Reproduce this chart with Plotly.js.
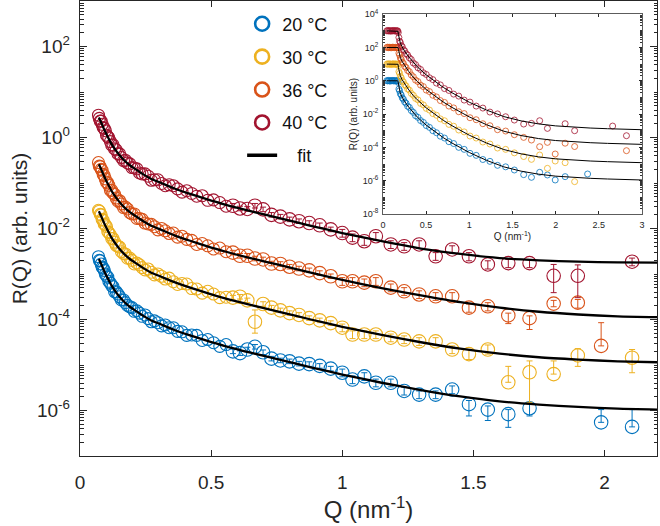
<!DOCTYPE html>
<html><head><meta charset="utf-8">
<script src="https://cdn.plot.ly/plotly-3.0.1.min.js"></script>
<style>html,body{margin:0;padding:0;background:#fff}#chart{width:660px;height:526px}</style>
</head><body><div id="chart"></div>
<script>
// ---------- main plot data (values are log10 of R(Q)) ----------
const seriesNames = ['20 °C', '30 °C', '36 °C', '40 °C'];
const seriesColors = ['#0072BD', '#EDB120', '#D95319', '#A2142F'];

const qLow = [0.0705,0.0737,0.0771,0.0807,0.0844,0.0883,0.0923,0.0966,0.101,0.106,0.110,0.116,0.121,0.126,0.132,0.138,0.145,0.151,0.158,0.166,0.173,0.181,0.190,0.198,0.207,0.217,0.227,0.237,0.248,0.260,0.272,0.284,0.297,0.311,0.325,0.340,0.356,0.372,0.389,0.407,0.426,0.445,0.466,0.487,0.509,0.533,0.557];

const low20 = [-2.62,-2.70,-2.71,-2.78,-2.85,-2.87,-2.92,-3.00,-3.04,-3.07,-3.16,-3.20,-3.26,-3.28,-3.39,-3.39,-3.44,-3.50,-3.57,-3.57,-3.63,-3.69,-3.72,-3.74,-3.82,-3.81,-3.86,-3.93,-3.90,-3.98,-4.05,-4.03,-4.07,-4.14,-4.12,-4.18,-4.18,-4.26,-4.27,-4.35,-4.34,-4.35,-4.46,-4.44,-4.51,-4.59,-4.55];
const low30 = [-1.60,-1.62,-1.69,-1.70,-1.80,-1.82,-1.90,-1.92,-1.96,-2.07,-2.09,-2.14,-2.22,-2.22,-2.30,-2.37,-2.39,-2.41,-2.51,-2.55,-2.56,-2.65,-2.65,-2.70,-2.78,-2.76,-2.80,-2.86,-2.91,-2.89,-2.96,-3.02,-3.00,-3.05,-3.11,-3.09,-3.17,-3.23,-3.21,-3.22,-3.32,-3.33,-3.42,-3.38,-3.44,-3.52,-3.51];
const low36 = [-0.55,-0.63,-0.64,-0.70,-0.72,-0.81,-0.84,-0.91,-0.98,-1.00,-1.05,-1.16,-1.16,-1.22,-1.25,-1.33,-1.40,-1.39,-1.46,-1.54,-1.53,-1.57,-1.65,-1.68,-1.68,-1.78,-1.78,-1.80,-1.88,-1.90,-1.91,-1.96,-2.03,-2.00,-2.05,-2.11,-2.10,-2.19,-2.17,-2.24,-2.26,-2.35,-2.33,-2.38,-2.45,-2.43,-2.51];
const low40 = [0.49,0.42,0.36,0.36,0.29,0.22,0.20,0.15,0.05,0.02,-0.01,-0.09,-0.17,-0.16,-0.25,-0.27,-0.36,-0.36,-0.44,-0.51,-0.50,-0.56,-0.58,-0.66,-0.67,-0.69,-0.78,-0.80,-0.80,-0.85,-0.94,-0.93,-0.93,-1.01,-1.06,-1.04,-1.06,-1.13,-1.20,-1.17,-1.23,-1.29,-1.28,-1.38,-1.37,-1.43,-1.51];

const qTail20 = [0.583,0.610,0.638,0.667,0.698,0.730,0.764,0.799,0.835,0.874,0.914,0.956,1.000,1.039,1.084,1.128,1.185,1.236,1.293,1.356,1.419,1.483,1.555,1.633,1.714,1.987,2.105];
const tail20 = [-4.70,-4.74,-4.66,-4.60,-4.72,-4.86,-4.90,-4.92,-4.97,-4.98,-5.02,-5.08,-5.17,-5.32,-5.25,-5.39,-5.39,-5.57,-5.65,-5.65,-5.54,-5.86,-5.98,-6.08,-5.95,-6.26,-6.36];
const errUp20 = [0.05,0.05,0.05,0.05,0.05,0.05,0.05,0.05,0.05,0.05,0.05,0.05,0.08,0.08,0.08,0.08,0.08,0.08,0.08,0.08,0.08,0.08,0.08,0.10,0.10,0.28,0.38];
const errDn20 = [0.05,0.05,0.05,0.05,0.05,0.05,0.05,0.05,0.05,0.05,0.05,0.05,0.09,0.09,0.09,0.09,0.09,0.09,0.09,0.09,0.09,0.26,0.24,0.29,0.17,0,0];

const qTail30 = [0.583,0.610,0.638,0.667,0.698,0.730,0.764,0.799,0.835,0.874,0.914,0.956,1.000,1.039,1.084,1.128,1.185,1.236,1.293,1.356,1.419,1.483,1.555,1.633,1.714,1.806,1.898,2.105];
const tail30 = [-3.52,-3.50,-3.58,-4.05,-3.66,-3.74,-3.80,-3.86,-3.90,-3.97,-4.02,-4.08,-4.18,-4.33,-4.33,-4.33,-4.40,-4.44,-4.48,-4.48,-4.66,-4.76,-4.66,-5.38,-5.16,-5.20,-4.79,-4.84];
const errUp30 = [0.05,0.05,0.05,0.26,0.05,0.05,0.05,0.05,0.05,0.05,0.05,0.05,0.08,0.08,0.08,0.08,0.08,0.08,0.08,0.08,0.08,0.10,0.10,0.35,0.25,0.29,0.15,0.18];
const errDn30 = [0.05,0.05,0.05,0.25,0.05,0.05,0.05,0.05,0.05,0.05,0.05,0.05,0.09,0.09,0.09,0.09,0.09,0.09,0.09,0.09,0.09,0.12,0.10,0,0.66,0,0.24,0.33];

const qTail36 = [0.583,0.610,0.638,0.667,0.698,0.730,0.764,0.799,0.835,0.874,0.914,0.956,1.000,1.039,1.084,1.128,1.185,1.236,1.293,1.356,1.419,1.483,1.555,1.633,1.714,1.806,1.898,1.987];
const tail36 = [-2.53,-2.60,-2.60,-2.66,-2.68,-2.77,-2.78,-2.84,-2.88,-2.92,-2.98,-3.05,-3.16,-3.16,-3.19,-3.16,-3.30,-3.38,-3.45,-3.49,-3.49,-3.74,-3.71,-3.91,-3.97,-3.65,-3.63,-4.58];
const errUp36 = [0.05,0.05,0.05,0.05,0.05,0.05,0.05,0.05,0.05,0.05,0.05,0.05,0.08,0.08,0.08,0.08,0.08,0.08,0.08,0.08,0.08,0.08,0.08,0.05,0.05,0.07,0.07,0.51];
const errDn36 = [0.05,0.05,0.05,0.05,0.05,0.05,0.05,0.05,0.05,0.05,0.05,0.05,0.09,0.09,0.09,0.09,0.09,0.09,0.09,0.09,0.09,0.10,0.10,0.18,0.25,0.07,0.12,0];

const qTail40 = [0.583,0.610,0.638,0.667,0.698,0.730,0.764,0.799,0.835,0.874,0.914,0.956,1.000,1.039,1.084,1.128,1.185,1.236,1.293,1.356,1.419,1.483,1.555,1.633,1.714,1.806,1.898,2.105];
const tail40 = [-1.50,-1.56,-1.57,-1.50,-1.58,-1.70,-1.74,-1.80,-1.84,-1.88,-1.93,-2.02,-2.10,-2.20,-2.28,-2.17,-2.35,-2.39,-2.35,-2.61,-2.46,-2.61,-2.79,-2.76,-2.76,-3.04,-3.04,-2.73];
const errUp40 = [0.05,0.05,0.05,0.05,0.05,0.05,0.05,0.05,0.05,0.05,0.05,0.05,0.08,0.08,0.08,0.08,0.08,0.08,0.08,0.08,0.08,0.08,0.08,0.08,0.08,0.25,0.24,0.08];
const errDn40 = [0.05,0.05,0.05,0.05,0.05,0.05,0.05,0.05,0.05,0.05,0.05,0.05,0.09,0.09,0.09,0.09,0.09,0.09,0.09,0.09,0.09,0.10,0.10,0.10,0.10,0.37,0.48,0.09];

const qFit = [0.072,0.08,0.09,0.10,0.11,0.12,0.135,0.15,0.17,0.19,0.21,0.24,0.27,0.31,0.36,0.42,0.48,0.55,0.65,0.76,0.88,1.0,1.15,1.3,1.45,1.6,1.75,1.9,2.05,2.2];
const fit20 = [-2.67,-2.77,-2.905,-3.03,-3.14,-3.25,-3.38,-3.495,-3.62,-3.72,-3.80,-3.915,-4.015,-4.11,-4.23,-4.35,-4.46,-4.58,-4.73,-4.88,-5.05,-5.21,-5.39,-5.55,-5.69,-5.80,-5.87,-5.92,-5.96,-5.98];
const fit30 = [-1.62,-1.72,-1.855,-1.98,-2.09,-2.20,-2.33,-2.445,-2.57,-2.67,-2.75,-2.865,-2.965,-3.06,-3.18,-3.30,-3.41,-3.53,-3.68,-3.83,-4.00,-4.16,-4.34,-4.50,-4.64,-4.75,-4.83,-4.88,-4.92,-4.94];
const fit36 = [-0.59,-0.69,-0.825,-0.95,-1.06,-1.17,-1.30,-1.415,-1.54,-1.64,-1.72,-1.835,-1.935,-2.03,-2.15,-2.27,-2.38,-2.50,-2.65,-2.80,-2.97,-3.13,-3.31,-3.47,-3.62,-3.74,-3.83,-3.89,-3.93,-3.95];
const fit40 = [0.44,0.34,0.205,0.08,-0.03,-0.14,-0.27,-0.385,-0.51,-0.61,-0.69,-0.805,-0.905,-1.00,-1.12,-1.24,-1.35,-1.47,-1.62,-1.77,-1.94,-2.10,-2.28,-2.44,-2.56,-2.65,-2.70,-2.73,-2.745,-2.75];

// ---------- inset data (log10 R(Q)) ----------
const qIn = [0.045,0.055,0.065,0.075,0.085,0.095,0.105,0.115,0.125,0.135,0.145,0.155,0.165,0.172,0.178,0.185,0.193,0.202,0.212,0.224,0.237,0.252,0.268,0.286,0.306,0.328,0.352,0.378,0.406,0.436,0.468,0.502,0.539,0.578,0.620,0.665,0.713,0.764,0.819,0.878,0.941,1.008,1.080,1.157,1.239,1.327,1.421,1.522,1.630,1.720,1.815,1.905,1.995,2.110,2.220,2.370,2.660,2.820];
const in20 = [0.01,-0.01,0.02,0,-0.02,0.01,0,0.02,-0.01,0,0.01,-0.02,0,0.01,-0.10,-0.50,-0.60,-0.78,-0.86,-1.03,-1.11,-1.27,-1.35,-1.53,-1.60,-1.79,-1.90,-2.10,-2.20,-2.39,-2.50,-2.69,-2.80,-3.00,-3.12,-3.33,-3.44,-3.66,-3.77,-4.00,-4.12,-4.36,-4.48,-4.73,-4.84,-5.08,-5.17,-5.36,-5.64,-5.80,-5.50,-5.66,-5.96,-5.76,null,-5.60,null,null];
const in30 = [1.0,1.01,0.99,1.02,1.0,0.98,1.01,1.0,1.02,0.99,1.0,1.01,0.99,1.0,0.92,0.55,0.44,0.26,0.18,0.01,-0.07,-0.24,-0.31,-0.49,-0.56,-0.76,-0.87,-1.06,-1.15,-1.36,-1.45,-1.66,-1.76,-1.97,-2.07,-2.29,-2.40,-2.62,-2.73,-2.96,-3.07,-3.32,-3.44,-3.68,-3.80,-4.04,-4.12,-4.33,-4.55,-4.72,-4.46,-5.26,-4.82,-4.92,-6.06,null,null,null];
const in36 = [2.0,2.02,1.99,2.01,2.0,1.98,2.01,2.02,2.0,1.99,2.01,2.0,1.98,2.0,2.0,1.66,1.55,1.37,1.29,1.12,1.04,0.86,0.80,0.62,0.55,0.35,0.24,0.04,-0.05,-0.26,-0.35,-0.56,-0.65,-0.87,-0.97,-1.19,-1.30,-1.52,-1.63,-1.86,-1.97,-2.22,-2.34,-2.58,-2.70,-2.94,-3.02,-3.24,-3.40,-3.56,-3.96,-3.70,-4.40,-3.75,-3.95,null,null,-4.20];
const in40 = [3.0,3.02,2.99,3.01,3.0,2.98,3.01,3.0,3.02,2.99,3.0,3.01,2.99,3.0,2.9,2.6,2.38,2.30,2.12,2.05,1.87,1.80,1.63,1.55,1.38,1.28,1.07,0.97,0.78,0.68,0.48,0.38,0.18,0.07,-0.14,-0.25,-0.47,-0.58,-0.80,-0.92,-1.16,-1.28,-1.52,-1.64,-1.88,-1.99,-2.16,-2.36,-2.60,-2.56,-2.40,-2.86,null,-2.58,-3.0,null,-2.72,-3.30];

const qFitIn = [0.045,0.10,0.17,0.175,0.18,0.19,0.20,0.22,0.25,0.30,0.35,0.40,0.50,0.60,0.70,0.80,0.90,1.0,1.2,1.4,1.6,1.8,2.0,2.2,2.4,2.6,2.8,3.0];
const fitIn20 = [0,0,0,-0.05,-0.25,-0.57,-0.72,-0.96,-1.23,-1.59,-1.92,-2.19,-2.66,-3.06,-3.42,-3.74,-4.03,-4.31,-4.78,-5.17,-5.43,-5.61,-5.73,-5.81,-5.86,-5.90,-5.94,-5.96];
const fitIn30 = [1,1,1,0.99,0.79,0.47,0.32,0.08,-0.19,-0.55,-0.88,-1.15,-1.62,-2.02,-2.38,-2.70,-2.99,-3.27,-3.74,-4.13,-4.39,-4.57,-4.69,-4.77,-4.82,-4.86,-4.90,-4.92];
const fitIn36 = [2,2,2,2,1.89,1.57,1.42,1.18,0.91,0.55,0.22,-0.05,-0.52,-0.92,-1.28,-1.60,-1.89,-2.17,-2.64,-3.03,-3.29,-3.47,-3.59,-3.67,-3.72,-3.76,-3.80,-3.82];
const fitIn40 = [3,3,3,2.97,2.77,2.45,2.30,2.06,1.79,1.43,1.10,0.83,0.36,-0.04,-0.40,-0.72,-1.01,-1.29,-1.76,-2.15,-2.41,-2.59,-2.71,-2.79,-2.84,-2.88,-2.92,-2.94];

// tick labels
const mainYTickVals = [1e-6, 1e-4, 1e-2, 1, 1e2];
const mainYTickText = ['10<sup>-6</sup>', '10<sup>-4</sup>', '10<sup>-2</sup>', '10<sup>0</sup>', '10<sup>2</sup>'];
const insetYTickVals = [1e-8, 1e-6, 1e-4, 1e-2, 1, 1e2, 1e4];
const insetYTickText = ['10<sup>-8</sup>', '10<sup>-6</sup>', '10<sup>-4</sup>', '10<sup>-2</sup>', '10<sup>0</sup>', '10<sup>2</sup>', '10<sup>4</sup>'];

// ---------- build ----------
const pw = a => a.map(v => v === null ? null : Math.pow(10, v));
const up = (v, e) => v.map((x, i) => Math.pow(10, x + e[i]) - Math.pow(10, x));
const dn = (v, e) => v.map((x, i) => Math.pow(10, x) - Math.pow(10, x - e[i]));

const lows = [low20, low30, low36, low40];
const qTails = [qTail20, qTail30, qTail36, qTail40];
const tails = [tail20, tail30, tail36, tail40];
const errUps = [errUp20, errUp30, errUp36, errUp40];
const errDns = [errDn20, errDn30, errDn36, errDn40];
const fits = [fit20, fit30, fit36, fit40];
const ins = [in20, in30, in36, in40];
const fitIns = [fitIn20, fitIn30, fitIn36, fitIn40];

const traces = [];
for (let s = 0; s < 4; s++) {
  const c = seriesColors[s];
  traces.push({x: qLow, y: pw(lows[s]), type: 'scatter', mode: 'markers', showlegend: false, hoverinfo: 'skip',
    marker: {symbol: 'circle-open', size: 12, color: c, line: {width: 1.1, color: c}}});
  traces.push({x: qTails[s], y: pw(tails[s]), type: 'scatter', mode: 'markers', showlegend: false, hoverinfo: 'skip',
    marker: {symbol: 'circle-open', size: 13.5, color: c, line: {width: 1.1, color: c}},
    error_y: {type: 'data', symmetric: false, array: up(tails[s], errUps[s]), arrayminus: dn(tails[s], errDns[s]),
      color: c, thickness: 1, width: 3}});
}
for (let s = 0; s < 4; s++) {
  traces.push({x: qFit, y: pw(fits[s]), type: 'scatter', mode: 'lines', showlegend: false, hoverinfo: 'skip',
    line: {color: '#000', width: 2.3, shape: 'spline', smoothing: 0.6}});
}
// inset
for (let s = 0; s < 4; s++) {
  const c = seriesColors[s];
  traces.push({x: qIn, y: pw(ins[s]), xaxis: 'x2', yaxis: 'y2', type: 'scatter', mode: 'markers', showlegend: false, hoverinfo: 'skip',
    marker: {symbol: 'circle-open', size: 6, color: c, line: {width: 0.8, color: c}}});
}
for (let s = 0; s < 4; s++) {
  traces.push({x: qFitIn, y: pw(fitIns[s]), xaxis: 'x2', yaxis: 'y2', type: 'scatter', mode: 'lines', showlegend: false, hoverinfo: 'skip',
    line: {color: '#000', width: 1}});
}
// legend entries
for (let s = 0; s < 4; s++) {
  const c = seriesColors[s];
  traces.push({x: [null], y: [null], type: 'scatter', mode: 'markers', name: seriesNames[s], legendgroup: 'g' + s,
    marker: {symbol: 'circle-open', size: 14, color: c, line: {width: 2.6, color: c}}});
}
traces.push({x: [null], y: [null], type: 'scatter', mode: 'lines', name: '\u00a0\u00a0\u00a0fit', legendgroup: 'gfit',
  line: {color: '#000', width: 3.5}});

const axisCommon = {showline: true, linecolor: '#262626', mirror: 'allticks', ticks: 'inside', tickcolor: '#262626',
  showgrid: false, zeroline: false};

const layout = {
  width: 660, height: 526,
  margin: {l: 80, r: 3, t: 1, b: 70},
  paper_bgcolor: '#fff', plot_bgcolor: '#fff',
  font: {family: 'Liberation Sans, Arial, sans-serif', color: '#262626'},
  showlegend: true,
  legend: {x: 0.281, xanchor: 'left', y: 0.99, yanchor: 'top', bgcolor: 'rgba(0,0,0,0)',
    font: {size: 18, color: '#111'}, tracegroupgap: 6.5, itemwidth: 30},
  xaxis: Object.assign({}, axisCommon, {range: [0, 2.2], tickvals: [0, 0.5, 1, 1.5, 2], ticklen: 6, tickwidth: 1.2,
    linewidth: 1.3, tickfont: {size: 19}, ticklabelstandoff: 9,
    title: {text: 'Q (nm<sup>-1</sup>)', font: {size: 24}, standoff: 7}}),
  yaxis: Object.assign({}, axisCommon, {type: 'log', range: [-7, 3], tickvals: mainYTickVals, ticktext: mainYTickText,
    ticklen: 7, tickwidth: 1.2, linewidth: 1.3, tickfont: {size: 19}, ticklabelstandoff: 5,
    minor: {ticks: 'inside', ticklen: 3.5, dtick: 'D1', tickcolor: '#262626', tickwidth: 1},
    title: {text: 'R(Q) (arb. units)', font: {size: 21}, standoff: 3}}),
  xaxis2: Object.assign({}, axisCommon, {domain: [0.525, 0.974], anchor: 'y2', range: [0, 3], dtick: 0.5, ticklen: 3,
    linewidth: 0.8, linecolor: '#333', tickfont: {size: 9}, ticklabelstandoff: 2,
    title: {text: 'Q (nm<sup>-1</sup>)', font: {size: 10}, standoff: 4}}),
  yaxis2: Object.assign({}, axisCommon, {domain: [0.532, 0.971], anchor: 'x2', type: 'log', range: [-8, 4],
    tickvals: insetYTickVals, ticktext: insetYTickText, ticklen: 3, linewidth: 0.8, linecolor: '#333',
    tickfont: {size: 9}, ticklabelstandoff: 2,
    minor: {ticks: 'inside', ticklen: 2, dtick: 'D1', tickcolor: '#333'},
    title: {text: 'R(Q) (arb. units)', font: {size: 10}, standoff: 3}})
};

Plotly.newPlot('chart', traces, layout, {staticPlot: true, displayModeBar: false});
</script>
</body></html>
